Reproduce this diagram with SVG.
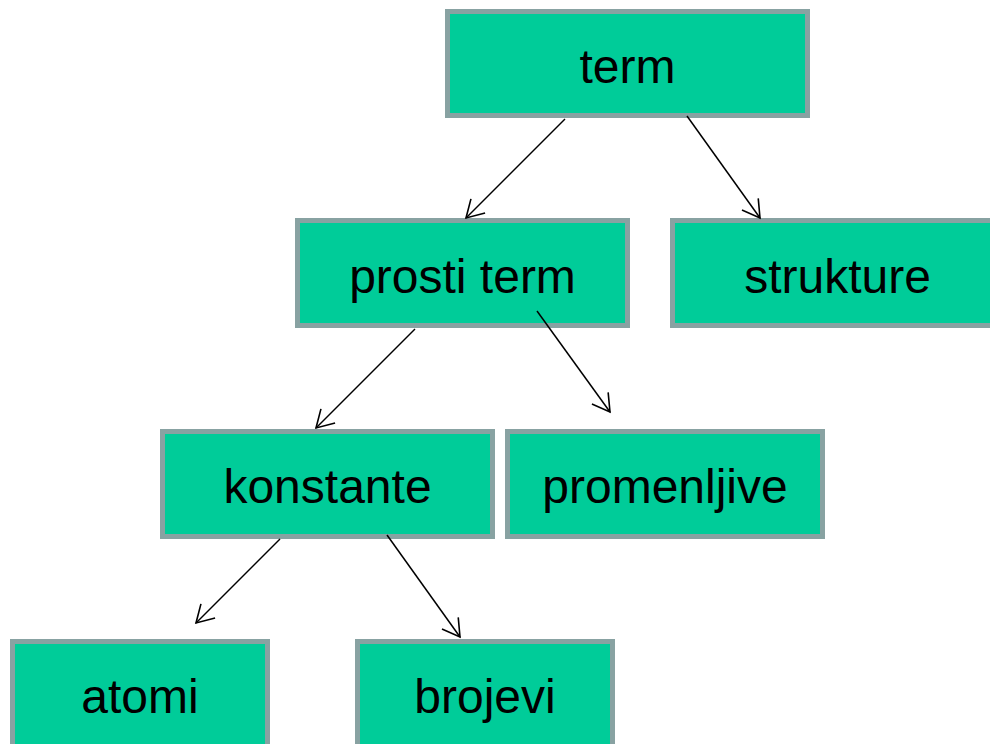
<svg xmlns="http://www.w3.org/2000/svg" width="990" height="744" viewBox="0 0 990 744">
  <style>
    .box { fill: #00CC99; stroke: #88A2A2; stroke-width: 5; }
    .label { font-family: "Liberation Sans", Arial, sans-serif; font-size: 48px; fill: #000; text-anchor: middle; }
    .edge { stroke: #000; stroke-width: 1.5; fill: none; marker-end: url(#open); }
  </style>
  <defs>
    <marker id="open" markerUnits="userSpaceOnUse" orient="auto" refX="0" refY="0" markerWidth="40" markerHeight="40" viewBox="-20 -20 40 40" overflow="visible">
      <path d="M-17,-10 L0,0 L-17,10" fill="none" stroke="#000" stroke-width="1.6"/>
    </marker>
  </defs>
  <rect width="990" height="744" fill="#fff"/>

  <g id="term">
    <rect class="box" x="447.5" y="11.5" width="360" height="104"/>
    <text class="label" x="627.5" y="83">term</text>
  </g>
  <g id="prosti-term">
    <rect class="box" x="297.5" y="220.5" width="330" height="105"/>
    <text class="label" x="462.5" y="293">prosti term</text>
  </g>
  <g id="strukture">
    <rect class="box" x="672.5" y="220.5" width="330" height="105"/>
    <text class="label" x="837.5" y="293">strukture</text>
  </g>
  <g id="konstante">
    <rect class="box" x="162.5" y="431.5" width="330" height="105"/>
    <text class="label" x="327.5" y="503">konstante</text>
  </g>
  <g id="promenljive">
    <rect class="box" x="507.5" y="431.5" width="315" height="105"/>
    <text class="label" x="665" y="503">promenljive</text>
  </g>
  <g id="atomi">
    <rect class="box" x="12.5" y="641.5" width="255" height="110"/>
    <text class="label" x="140" y="713">atomi</text>
  </g>
  <g id="brojevi">
    <rect class="box" x="357.5" y="641.5" width="255" height="110"/>
    <text class="label" x="485" y="713">brojevi</text>
  </g>

  <g id="connectors">
    <line class="edge" x1="565" y1="119" x2="466" y2="218"/>
    <line class="edge" x1="687" y1="116" x2="760" y2="218"/>
    <line class="edge" x1="415" y1="329" x2="316" y2="428"/>
    <line class="edge" x1="537" y1="311" x2="610" y2="412"/>
    <line class="edge" x1="280" y1="539" x2="196" y2="623"/>
    <line class="edge" x1="387" y1="535" x2="460" y2="637"/>
  </g>
</svg>
